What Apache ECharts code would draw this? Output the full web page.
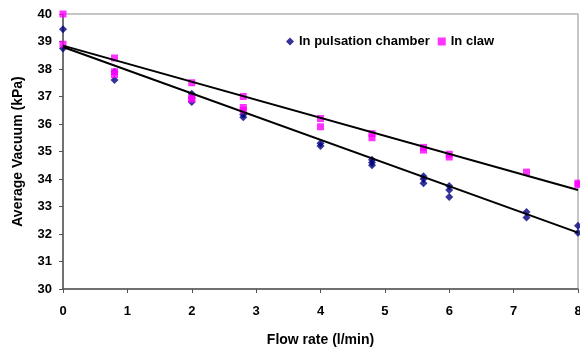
<!DOCTYPE html>
<html><head><meta charset="utf-8">
<script src="https://cdn.jsdelivr.net/npm/echarts@6/dist/echarts.min.js"></script>
<style>html,body{margin:0;padding:0;background:#fff}#c{width:580px;height:351px}</style>
</head><body><div id="c"></div>
<script>
// Flow rate (l/min) and measured vacuum (kPa)
const pulsationFlow = [0,0, 0.8,0.8, 2,2,2, 2.8,2.8, 4,4, 4.8,4.8,4.8, 5.6,5.6,5.6, 6,6,6, 7.2,7.2, 8,8];
const pulsationVac  = [39.45,38.75, 37.9,37.6, 37.1,36.95,36.8, 36.35,36.25, 35.3,35.2, 34.7,34.6,34.5, 34.1,34.0,33.85, 33.75,33.6,33.35, 32.8,32.6, 32.3,32.05];
const clawFlow = [0,0, 0.8,0.8,0.8, 2,2,2, 2.8,2.8,2.8, 4,4, 4.8,4.8, 5.6,5.6, 6,6, 7.2, 8,8];
const clawVac  = [40.0,38.9, 38.4,37.9,37.8, 37.5,36.95,36.9, 37.0,36.6,36.5, 36.2,35.9, 35.65,35.5, 35.15,35.05, 34.9,34.8, 34.25, 33.85,33.8];
const trendFlow = [0, 8];
const pulsationTrend = [38.8, 32.05];
const clawTrend = [38.85, 33.6];
const seriesNames = ['In pulsation chamber', 'In claw'];

const zip = (a,b) => a.map((v,i)=>[v,b[i]]);
const chart = echarts.init(document.getElementById('c'));
const font = 'Liberation Sans, Arial, sans-serif';
chart.setOption({
  animation:false,
  grid:{left:63,right:2,top:14,bottom:62,show:true,borderColor:'#b4b4b4',borderWidth:1.5,
        outerBoundsMode:'none',containLabel:false},
  legend:{
    data:seriesNames, top:35, left:286, itemGap:8, itemWidth:8, itemHeight:8,
    textStyle:{fontFamily:font,fontWeight:'bold',fontSize:13,color:'#000'}, padding:0
  },
  xAxis:{
    type:'value',min:0,max:8,interval:1,
    name:'Flow rate (l/min)',nameLocation:'middle',nameGap:44,
    nameTextStyle:{fontFamily:font,fontWeight:'bold',fontSize:14,color:'#000'},
    axisLine:{show:true,lineStyle:{color:'#555',width:1.5}},
    axisTick:{show:true,length:4,lineStyle:{color:'#555'}},
    axisLabel:{fontFamily:font,fontWeight:'bold',fontSize:13,color:'#000',margin:16},
    splitLine:{show:false}
  },
  yAxis:{
    type:'value',min:30,max:40,interval:1,
    name:'Average Vacuum (kPa)',nameLocation:'middle',nameGap:38,
    nameTextStyle:{fontFamily:font,fontWeight:'bold',fontSize:14,color:'#000'},
    axisLine:{show:true,lineStyle:{color:'#555',width:1.5}},
    axisTick:{show:true,length:4,lineStyle:{color:'#555'}},
    axisLabel:{fontFamily:font,fontWeight:'bold',fontSize:13,color:'#000',margin:11},
    splitLine:{show:false}
  },
  series:[
    {name:seriesNames[0],type:'scatter',data:zip(pulsationFlow,pulsationVac),symbol:'diamond',symbolSize:8,
     itemStyle:{color:'#000080'},z:3},
    {name:seriesNames[1],type:'scatter',data:zip(clawFlow,clawVac),symbol:'rect',symbolSize:7,
     itemStyle:{color:'#ff00ff'},z:3},
    {type:'line',data:zip(trendFlow,pulsationTrend),symbol:'none',lineStyle:{color:'#000',width:2},z:4,silent:true},
    {type:'line',data:zip(trendFlow,clawTrend),symbol:'none',lineStyle:{color:'#000',width:2},z:4,silent:true}
  ]
});
</script></body></html>
